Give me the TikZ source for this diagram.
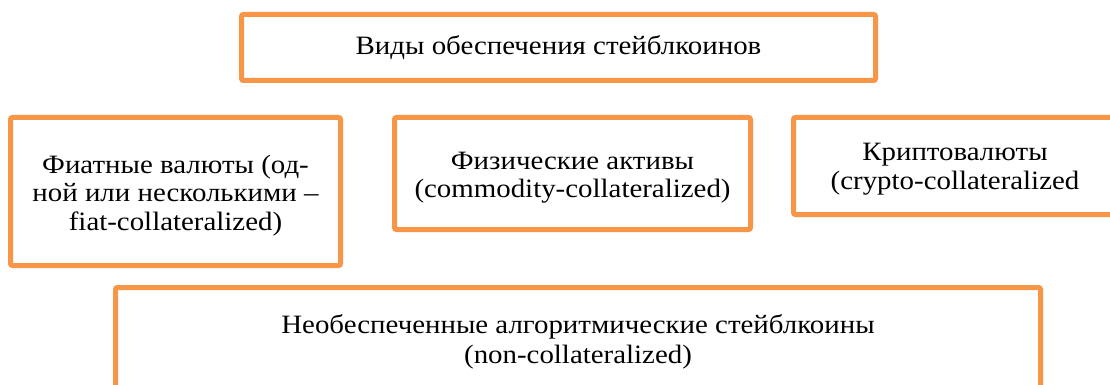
\documentclass[tikz,border=0pt]{standalone}
\usepackage{fontspec}
\setmainfont{Liberation Serif}[FakeStretch=1.09]
\definecolor{boxorange}{HTML}{F79646}
\begin{document}
\begin{tikzpicture}[x=1pt,y=-1pt,
  box/.style={draw=boxorange, line width=5pt, rounded corners=2pt, fill=white,
    inner sep=0pt},
  txt/.style={inner sep=0pt, align=center, text=black,
    font=\fontsize{26.5}{28.5}\selectfont}]
\fill[white] (0,0) rectangle (1110,385);
\useasboundingbox (0,0) rectangle (1110,385);
\node[box, minimum width=634pt, minimum height=66pt] (top) at (558.5,47.5) {};
\node[box, minimum width=330pt, minimum height=148pt] (fiat) at (175.5,191.5) {};
\node[box, minimum width=356pt, minimum height=112pt] (phys) at (572.5,173.5) {};
\node[box, minimum width=323pt, minimum height=97pt] (crypto) at (955,166) {};
\node[box, minimum width=925pt, minimum height=105pt] (algo) at (578,340) {};
\node[txt] (topt) at (top) {Виды обеспечения стейблкоинов};
\node[txt, yshift=-4pt] (fiatt) at (fiat) {Фиатные валюты (од-\\ной или несколькими –\\fiat-collateralized)};
\node[txt, yshift=-4pt] (physt) at (phys) {Физические активы\\(commodity-collateralized)};
\node[txt, yshift=-3pt] (cryptot) at (crypto) {Криптовалюты\\(crypto-collateralized};
\node[txt, font=\fontsize{26.5}{30}\selectfont, yshift=-1.5pt] (algot) at (algo) {Необеспеченные алгоритмические стейблкоины\\(non-collateralized)};
\end{tikzpicture}
\end{document}
